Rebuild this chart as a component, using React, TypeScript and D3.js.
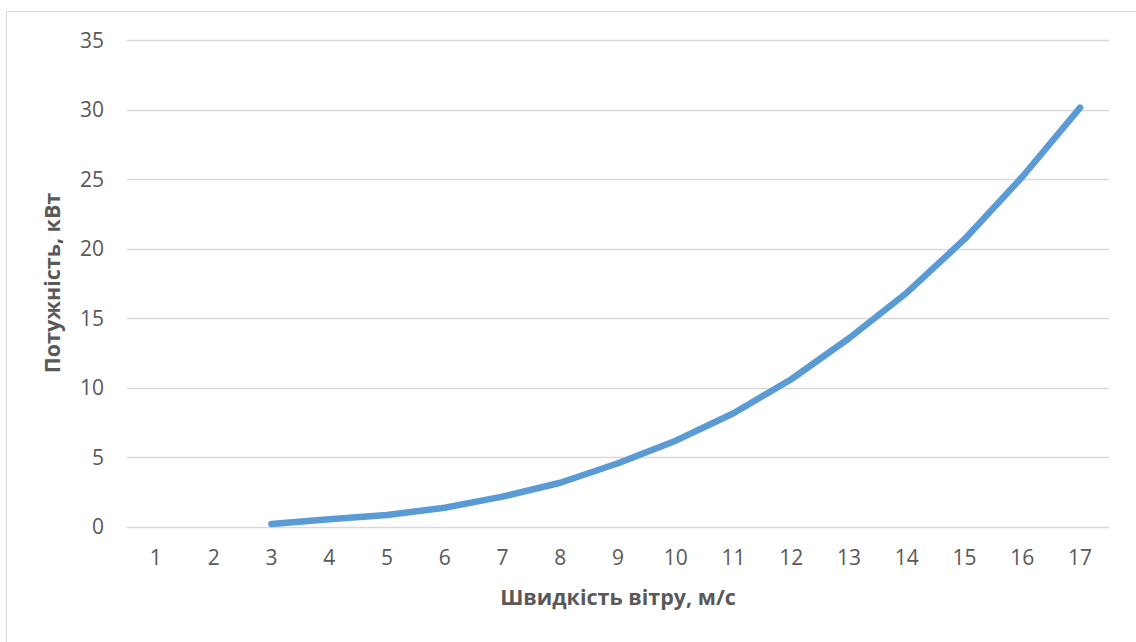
import { useEffect, useRef } from "react";
import * as d3 from "d3";

const categories = ["1", "2", "3", "4", "5", "6", "7", "8", "9", "10", "11", "12", "13", "14", "15", "16", "17"];
const power = [null, null, 0.18, 0.52, 0.83, 1.35, 2.15, 3.15, 4.55, 6.18, 8.15, 10.6, 13.55, 16.83, 20.68, 25.18, 30.15];
const yTicks = [0, 5, 10, 15, 20, 25, 30, 35];

const xTitle = "Швидкість вітру, м/с";
const yTitle = "Потужність, кВт";

export default function App() {
  const svgRef = useRef<SVGSVGElement>(null);

  useEffect(() => {
    const width = 1136;
    const height = 642;
    const left = 127;
    const right = 1109;
    const top = 40.3;
    const bottom = 526.5;
    const font = "'Open Sans', Calibri, sans-serif";

    const svg = d3.select(svgRef.current);
    svg.selectAll("*").remove();

    svg
      .append("rect")
      .attr("x", 6.5)
      .attr("y", 11.5)
      .attr("width", width + 20)
      .attr("height", height + 20)
      .attr("fill", "white")
      .attr("stroke", "#d9d9d9");

    const x = d3.scaleBand().domain(categories).range([left, right]);
    const y = d3.scaleLinear().domain([0, 35]).range([bottom, top]);

    // gridlines
    svg
      .append("g")
      .selectAll("line")
      .data(yTicks)
      .enter()
      .append("line")
      .attr("x1", left)
      .attr("x2", right)
      .attr("y1", (d) => Math.round(y(d)) + 0.5)
      .attr("y2", (d) => Math.round(y(d)) + 0.5)
      .attr("stroke", "#d9d9d9")
      .attr("stroke-width", 1.3);

    // y tick labels
    svg
      .append("g")
      .selectAll("text")
      .data(yTicks)
      .enter()
      .append("text")
      .attr("x", 104)
      .attr("y", (d) => y(d))
      .attr("dy", "0.36em")
      .attr("text-anchor", "end")
      .attr("font-family", font)
      .attr("font-size", "21px")
      .attr("fill", "#595959")
      .text((d) => d);

    // x tick labels
    svg
      .append("g")
      .selectAll("text")
      .data(categories)
      .enter()
      .append("text")
      .attr("x", (d) => x(d)! + x.bandwidth() / 2)
      .attr("y", 565)
      .attr("text-anchor", "middle")
      .attr("font-family", font)
      .attr("font-size", "21px")
      .attr("fill", "#595959")
      .text((d) => d);

    const points = categories
      .map((c, i) => ({ c, v: power[i] }))
      .filter((d) => d.v !== null) as { c: string; v: number }[];

    const line = d3
      .line<{ c: string; v: number }>()
      .x((d) => x(d.c)! + x.bandwidth() / 2)
      .y((d) => y(d.v));

    svg
      .append("path")
      .datum(points)
      .attr("d", line)
      .attr("fill", "none")
      .attr("stroke", "#5b9bd5")
      .attr("stroke-width", 6.5)
      .attr("stroke-linecap", "round")
      .attr("stroke-linejoin", "round");

    svg
      .append("text")
      .attr("x", 618)
      .attr("y", 605)
      .attr("text-anchor", "middle")
      .attr("font-family", font)
      .attr("font-size", "21.5px")
      .attr("font-weight", "bold")
      .attr("fill", "#595959")
      .text(xTitle);

    svg
      .append("text")
      .attr("transform", `translate(60, 283) rotate(-90)`)
      .attr("text-anchor", "middle")
      .attr("font-family", font)
      .attr("font-size", "21.5px")
      .attr("font-weight", "bold")
      .attr("fill", "#595959")
      .text(yTitle);
  }, []);

  return (
    <svg
      ref={svgRef}
      width={1136}
      height={642}
      style={{ position: "absolute", left: 0, top: 0, background: "white" }}
    />
  );
}
